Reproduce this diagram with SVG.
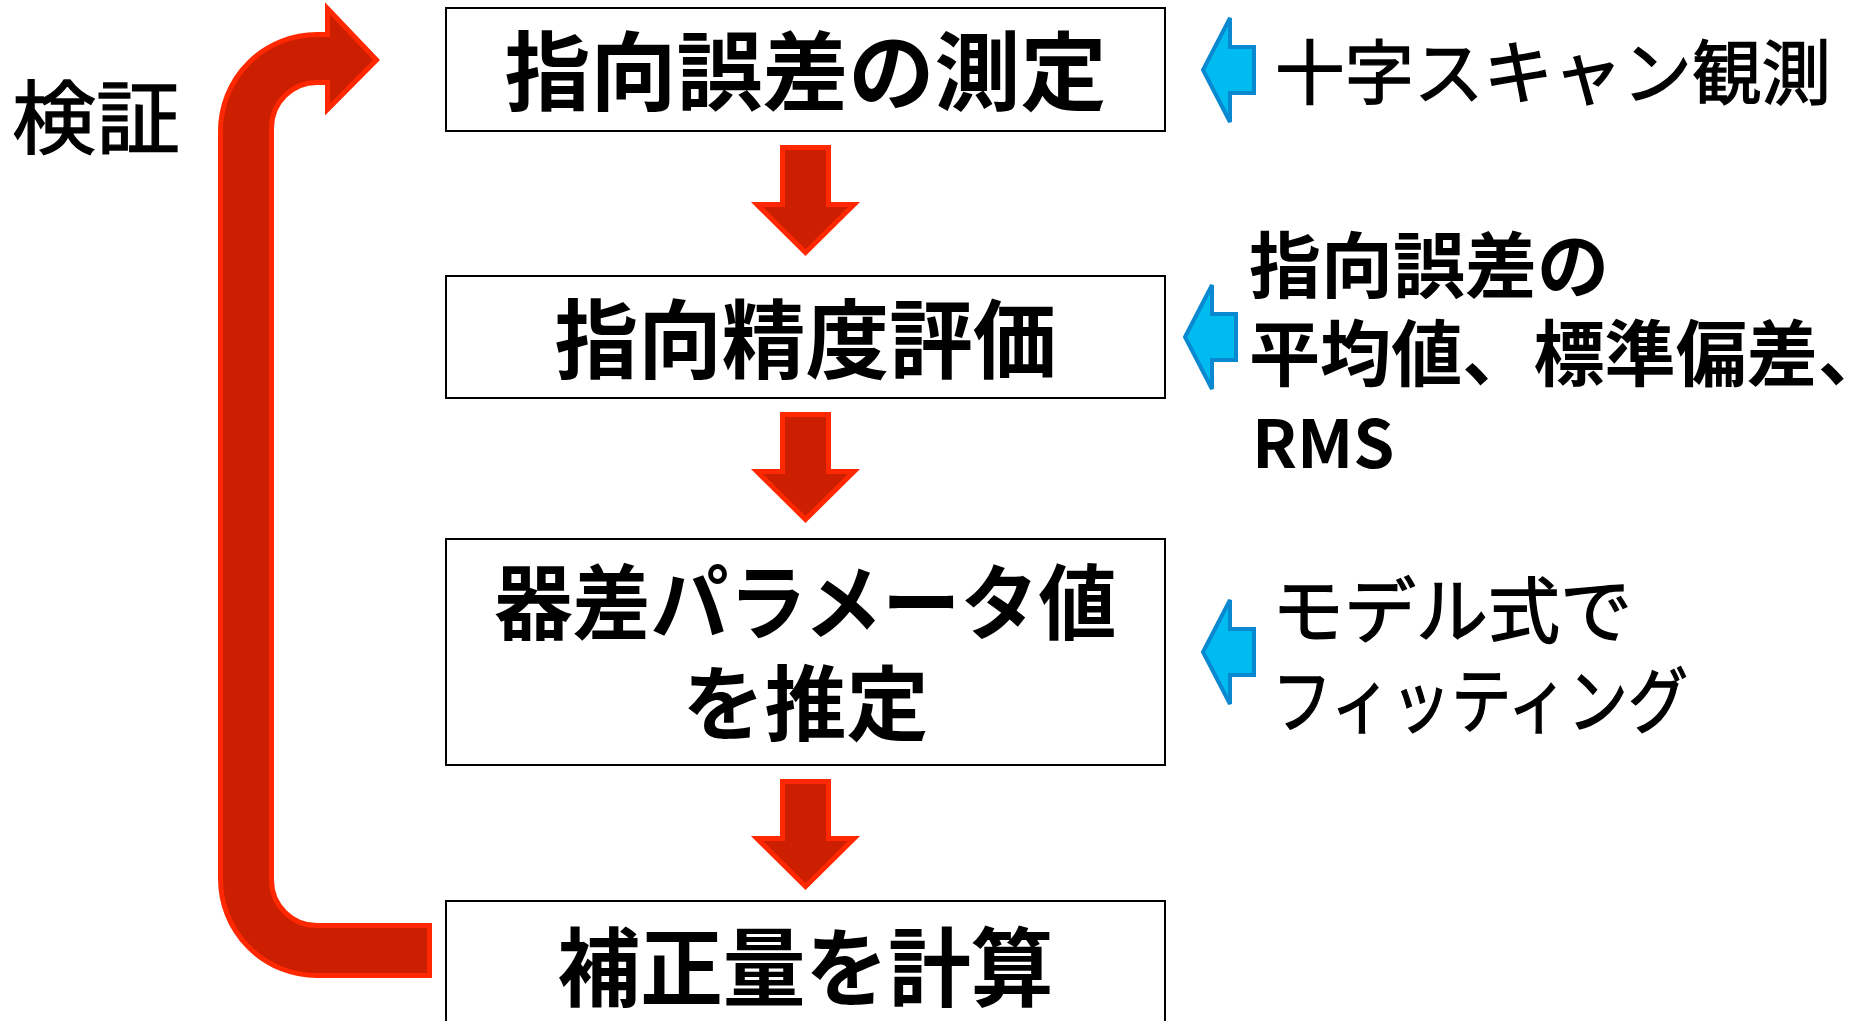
<svg xmlns="http://www.w3.org/2000/svg" width="1855" height="1021" viewBox="0 0 1855 1021">
<style>
.box{fill:#fff;stroke:#000;stroke-width:2}
.t{font-family:"Noto Sans CJK JP","Noto Sans",sans-serif;fill:#000}
.b{font-weight:bold}
.r{stroke:#000;stroke-width:1.3}
.red{fill:#CC1E00;stroke:#FF2800;stroke-width:5}
.blue{fill:#00BBF0;stroke:#0A88D0;stroke-width:4}
</style>
<defs>
<path id="down" d="M0 0 H46 V57 H71.5 L23 105 L-25.5 57 H0 Z"/>
<path id="left" d="M-27 0 L0 -52 V-23 H24 V23 H0 V52 Z"/>
</defs>
<rect width="1855" height="1021" fill="#fff"/>
<g id="connectors">
<path id="loop" class="red" d="M429.5 925.5 L317 925.5 A45.5 45.5 0 0 1 271.5 880 L271.5 128 A45.5 45.5 0 0 1 317 82.5 L327.5 82.5 L327.5 109.5 L376.5 60 L327.5 8.5 L327.5 34.5 L317 34.5 A96.5 96.5 0 0 0 220.5 131 L220.5 879 A96.5 96.5 0 0 0 317 975.5 L429.5 975.5 Z"/>
<use href="#down" class="red" x="782.5" y="147.5"/>
<use href="#down" class="red" x="782.5" y="414.5"/>
<use href="#down" class="red" x="782.5" y="781.5"/>
<use href="#left" class="blue" x="1230" y="70"/>
<use href="#left" class="blue" x="1212" y="337"/>
<use href="#left" class="blue" x="1230" y="652"/>
</g>
<g id="label-verify">
<text class="t r" x="12" y="147" font-size="80" textLength="168" lengthAdjust="spacingAndGlyphs">検証</text>
</g>
<g id="node1">
<rect class="box" x="446" y="8" width="719" height="123"/>
<text class="t b" x="805.5" y="104" font-size="86" text-anchor="middle">指向誤差の測定</text>
</g>
<g id="node2">
<rect class="box" x="446" y="276" width="719" height="122"/>
<text class="t b" x="805.5" y="372" font-size="86" text-anchor="middle" textLength="502" lengthAdjust="spacingAndGlyphs">指向精度評価</text>
</g>
<g id="node3">
<rect class="box" x="446" y="539" width="719" height="226"/>
<text class="t b" x="805.5" y="633" font-size="82" text-anchor="middle" textLength="622" lengthAdjust="spacingAndGlyphs">器差パラメータ値</text>
<text class="t b" x="805.5" y="734" font-size="82" text-anchor="middle">を推定</text>
</g>
<g id="node4">
<rect class="box" x="446" y="901" width="719" height="140"/>
<text class="t b" x="805.5" y="1000" font-size="86" text-anchor="middle" textLength="496" lengthAdjust="spacingAndGlyphs">補正量を計算</text>
</g>
<g id="note1">
<text class="t r" x="1275" y="99" font-size="70" textLength="556" lengthAdjust="spacingAndGlyphs">十字スキャン観測</text>
</g>
<g id="note2">
<text class="t b" x="1249" y="292" font-size="72">指向誤差の</text>
<text class="t b" x="1249" y="380" font-size="72" textLength="640" lengthAdjust="spacingAndGlyphs">平均値、標準偏差、</text>
<text class="t b" x="1252" y="468" font-size="66">RMS</text>
</g>
<g id="note3">
<text class="t r" x="1272" y="637" font-size="72" textLength="360" lengthAdjust="spacingAndGlyphs">モデル式で</text>
<text class="t r" x="1272" y="727" font-size="72" textLength="416" lengthAdjust="spacingAndGlyphs">フィッティング</text>
</g>
</svg>
